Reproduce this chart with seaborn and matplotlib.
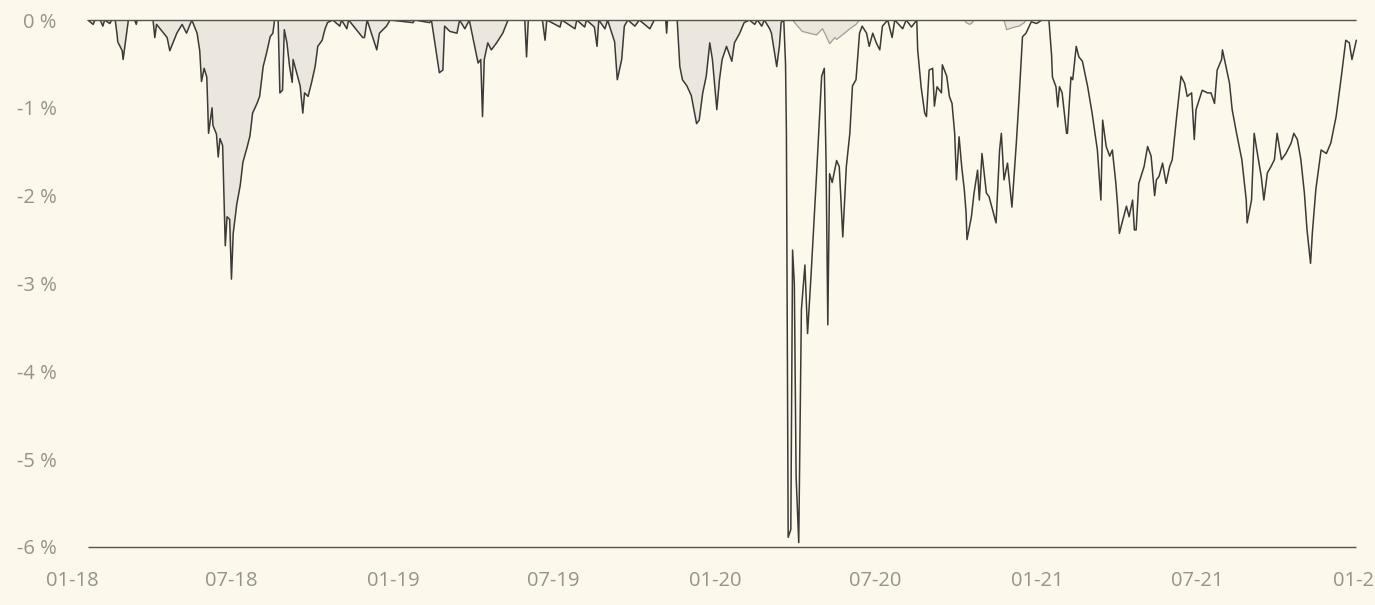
import matplotlib
matplotlib.use("Agg")
import matplotlib.pyplot as plt
import pandas as pd
import seaborn as sns

# ---------------- data ----------------
dates_a = [
    "2018-01-19", "2018-01-25", "2018-01-27", "2018-02-02", "2018-02-05", "2018-02-07", "2018-02-13", "2018-02-15",
    "2018-02-19", "2018-02-21", "2018-02-22", "2018-02-27", "2018-02-28", "2018-03-02", "2018-03-04", "2018-03-06",
    "2018-03-13", "2018-03-15", "2018-03-16", "2018-04-03", "2018-04-05", "2018-04-07", "2018-04-11", "2018-04-19",
    "2018-04-22", "2018-04-26", "2018-04-30", "2018-05-06", "2018-05-11", "2018-05-15", "2018-05-17", "2018-05-23",
    "2018-05-26", "2018-05-28", "2018-05-31", "2018-06-03", "2018-06-04", "2018-06-05", "2018-06-09", "2018-06-10",
    "2018-06-14", "2018-06-16", "2018-06-18", "2018-06-21", "2018-06-24", "2018-06-26", "2018-06-29", "2018-07-01",
    "2018-07-03", "2018-07-07", "2018-07-11", "2018-07-14", "2018-07-19", "2018-07-22", "2018-07-25", "2018-07-30",
    "2018-08-02", "2018-08-06", "2018-08-10", "2018-08-14", "2018-08-17", "2018-08-19", "2018-08-23", "2018-08-25",
    "2018-08-28", "2018-08-30", "2018-09-02", "2018-09-05", "2018-09-08", "2018-09-09", "2018-09-13", "2018-09-17",
    "2018-09-20", "2018-09-22", "2018-09-26", "2018-09-30", "2018-10-04", "2018-10-07", "2018-10-12", "2018-10-15",
    "2018-10-18", "2018-10-24", "2018-11-01", "2018-11-03", "2018-11-09", "2018-11-11", "2018-11-27", "2018-11-29",
    "2018-12-02", "2018-12-13", "2018-12-16", "2018-12-24", "2018-12-28", "2019-01-23", "2019-01-25", "2019-02-11",
    "2019-02-13", "2019-02-22", "2019-02-26", "2019-02-28", "2019-03-06", "2019-03-14", "2019-03-17", "2019-03-23",
    "2019-03-28", "2019-04-07", "2019-04-10", "2019-04-12", "2019-04-14", "2019-04-18", "2019-04-22", "2019-04-28",
    "2019-05-05", "2019-05-11", "2019-05-30", "2019-06-01", "2019-06-03", "2019-06-19", "2019-06-22", "2019-06-24",
    "2019-07-09", "2019-07-11", "2019-07-26", "2019-07-28", "2019-08-06", "2019-08-08", "2019-08-17", "2019-08-20",
    "2019-08-22", "2019-08-29", "2019-09-01", "2019-09-09", "2019-09-12", "2019-09-17", "2019-09-20", "2019-09-24",
    "2019-10-02", "2019-10-07", "2019-10-19", "2019-10-24", "2019-11-06", "2019-11-07", "2019-11-08", "2019-11-19",
    "2019-11-22", "2019-11-25", "2019-11-30", "2019-12-05", "2019-12-11", "2019-12-14", "2019-12-18", "2019-12-22",
    "2019-12-26", "2019-12-29", "2020-01-03", "2020-01-06", "2020-01-09", "2020-01-14", "2020-01-20", "2020-01-23",
    "2020-01-29", "2020-02-03", "2020-02-09", "2020-02-15", "2020-02-18", "2020-02-23", "2020-02-26", "2020-03-03",
    "2020-03-05", "2020-03-11", "2020-03-14", "2020-03-16", "2020-03-19", "2020-03-21", "2020-03-22", "2020-03-24",
    "2020-03-27", "2020-03-29", "2020-03-31", "2020-04-02", "2020-04-05", "2020-04-08", "2020-04-12", "2020-04-15",
    "2020-04-19", "2020-04-21", "2020-04-25", "2020-04-29", "2020-05-01", "2020-05-04", "2020-05-06", "2020-05-08",
    "2020-05-10", "2020-05-13", "2020-05-18", "2020-05-21", "2020-05-25", "2020-05-29", "2020-06-02", "2020-06-05",
    "2020-06-09", "2020-06-13", "2020-06-16", "2020-06-21", "2020-06-24", "2020-06-28", "2020-07-02", "2020-07-06",
    "2020-07-09", "2020-07-15", "2020-07-20", "2020-07-23", "2020-08-01", "2020-08-05", "2020-08-11", "2020-08-17",
    "2020-08-18", "2020-08-22", "2020-08-26", "2020-08-28", "2020-08-31", "2020-09-04", "2020-09-06", "2020-09-09",
    "2020-09-14", "2020-09-15", "2020-09-20", "2020-09-23", "2020-09-26", "2020-09-29", "2020-10-01", "2020-10-04",
    "2020-10-07", "2020-10-10", "2020-10-12", "2020-10-13", "2020-10-18", "2020-10-21", "2020-10-25", "2020-10-27",
    "2020-10-30", "2020-11-04", "2020-11-07", "2020-11-15", "2020-11-19", "2020-11-21", "2020-11-24", "2020-11-28",
    "2020-12-03", "2020-12-08", "2020-12-11", "2020-12-15", "2020-12-19", "2020-12-25", "2020-12-31", "2021-01-06",
    "2021-01-14", "2021-01-17", "2021-01-18", "2021-01-22", "2021-01-24", "2021-01-26", "2021-01-29", "2021-02-03",
    "2021-02-04", "2021-02-08", "2021-02-10", "2021-02-14", "2021-02-17", "2021-02-21", "2021-02-27", "2021-03-04",
    "2021-03-10", "2021-03-14", "2021-03-16", "2021-03-20", "2021-03-24", "2021-03-27", "2021-03-31", "2021-04-02",
    "2021-04-04", "2021-04-07", "2021-04-12", "2021-04-15", "2021-04-19", "2021-04-21", "2021-04-23", "2021-04-26",
    "2021-05-02", "2021-05-06", "2021-05-10", "2021-05-14", "2021-05-16", "2021-05-19", "2021-05-23", "2021-05-27",
    "2021-05-31", "2021-06-03", "2021-06-08", "2021-06-13", "2021-06-17", "2021-06-20", "2021-06-25", "2021-06-28",
    "2021-06-30", "2021-07-07", "2021-07-13", "2021-07-17", "2021-07-21", "2021-07-24", "2021-07-29", "2021-07-30",
    "2021-08-03", "2021-08-07", "2021-08-10", "2021-08-15", "2021-08-18", "2021-08-21", "2021-08-26", "2021-08-27",
    "2021-09-01", "2021-09-04", "2021-09-07", "2021-09-12", "2021-09-15", "2021-09-19", "2021-09-23", "2021-09-27",
    "2021-09-30", "2021-10-05", "2021-10-10", "2021-10-16", "2021-10-19", "2021-10-23", "2021-10-27", "2021-10-31",
    "2021-11-03", "2021-11-07", "2021-11-09", "2021-11-13", "2021-11-19", "2021-11-25", "2021-11-30", "2021-12-06",
    "2021-12-12", "2021-12-17", "2021-12-21", "2021-12-24", "2021-12-29",
]
drawdown_a = [
    0, -0.05, 0, 0, -0.07, 0, -0.04, 0,
    0, -0.15, -0.25, -0.35, -0.45, -0.30, -0.15, 0,
    0, -0.05, 0, 0, -0.20, -0.05, -0.10, -0.20,
    -0.35, -0.25, -0.15, -0.05, -0.15, -0.05, 0, -0.15,
    -0.35, -0.70, -0.55, -0.65, -0.95, -1.29, -1.00, -1.20,
    -1.30, -1.56, -1.35, -1.43, -2.57, -2.24, -2.27, -2.95,
    -2.43, -2.10, -1.88, -1.62, -1.44, -1.32, -1.06, -0.95,
    -0.87, -0.53, -0.37, -0.19, -0.15, 0, 0, -0.83,
    -0.80, -0.11, -0.26, -0.53, -0.71, -0.45, -0.60, -0.75,
    -1.06, -0.83, -0.87, -0.71, -0.53, -0.30, -0.23, -0.11,
    -0.03, 0, -0.07, 0, -0.10, 0, -0.20, -0.20,
    0, -0.34, -0.15, -0.07, 0, -0.03, 0, -0.03,
    0, -0.60, -0.57, -0.07, -0.13, -0.15, 0, -0.10,
    0, -0.49, -0.45, -1.10, -0.45, -0.26, -0.34, -0.26,
    -0.15, 0, 0, -0.42, 0, 0, -0.23, 0,
    -0.08, 0, -0.10, 0, -0.08, 0, -0.08, -0.30,
    0, -0.10, 0, -0.25, -0.68, -0.45, -0.07, 0,
    -0.07, 0, -0.10, 0, 0, -0.15, 0, 0,
    -0.53, -0.68, -0.75, -0.86, -1.18, -1.14, -0.83, -0.64,
    -0.26, -0.45, -1.02, -0.68, -0.45, -0.30, -0.47, -0.26,
    -0.15, -0.03, 0, -0.05, 0, -0.07, 0, -0.10,
    -0.15, -0.53, -0.30, -0.03, 0, -0.50, -1.29, -5.89,
    -5.80, -2.62, -3.00, -5.20, -5.95, -3.30, -2.79, -3.57,
    -2.90, -2.54, -1.80, -1.02, -0.64, -0.55, -1.60, -3.47,
    -1.75, -1.85, -1.60, -1.67, -2.47, -1.67, -1.29, -0.75,
    -0.68, -0.15, -0.07, -0.15, -0.30, -0.15, -0.26, -0.34,
    -0.07, 0, -0.20, 0, -0.10, 0, -0.08, 0,
    -0.34, -0.77, -1.06, -1.10, -0.57, -0.55, -0.98, -0.76,
    -0.83, -0.51, -0.64, -0.87, -0.95, -1.29, -1.82, -1.33,
    -1.67, -1.94, -2.20, -2.50, -2.24, -1.97, -1.71, -2.05,
    -1.52, -1.97, -2.01, -2.31, -1.48, -1.29, -1.82, -1.63,
    -2.13, -1.40, -0.91, -0.19, -0.15, -0.02, -0.04, 0,
    0, -0.40, -0.65, -0.76, -0.99, -0.76, -0.83, -1.29,
    -1.29, -0.65, -0.68, -0.30, -0.42, -0.47, -0.76, -1.06,
    -1.48, -2.05, -1.14, -1.44, -1.55, -1.48, -1.86, -2.12,
    -2.43, -2.31, -2.12, -2.24, -2.05, -2.39, -2.39, -1.86,
    -1.67, -1.44, -1.55, -2.00, -1.82, -1.78, -1.63, -1.86,
    -1.67, -1.59, -1.10, -0.64, -0.72, -0.87, -0.83, -1.36,
    -1.02, -0.80, -0.83, -0.83, -0.95, -0.57, -0.45, -0.34,
    -0.53, -0.72, -1.02, -1.29, -1.44, -1.59, -2.05, -2.31,
    -2.05, -1.29, -1.48, -1.78, -2.05, -1.74, -1.67, -1.59,
    -1.29, -1.59, -1.52, -1.40, -1.29, -1.36, -1.59, -1.97,
    -2.39, -2.77, -2.43, -1.93, -1.48, -1.52, -1.40, -1.10,
    -0.64, -0.23, -0.26, -0.45, -0.23,
]
dates_b = [
    "2020-03-19", "2020-03-29", "2020-04-02", "2020-04-09", "2020-04-17", "2020-04-25", "2020-05-02",
    "2020-05-06", "2020-05-10", "2020-05-16", "2020-05-18", "2020-05-27", "2020-06-02", "2020-06-09",
    "2020-06-13", "2020-10-10", "2020-10-12", "2020-10-16", "2020-10-19", "2020-10-21", "2020-11-24",
    "2020-11-27", "2020-11-30", "2020-12-06", "2020-12-11", "2020-12-17", "2020-12-19", "2021-12-29",
]
drawdown_b = [
    0, 0, -0.05, -0.13, -0.15, -0.17, -0.10,
    -0.18, -0.27, -0.20, -0.22, -0.15, -0.10, -0.05,
    0, 0, -0.03, -0.05, -0.03, 0, 0,
    -0.11, -0.10, -0.08, -0.07, -0.03, 0, 0,
]
fill_a_until = "2020-03-19"

x_tick_dates = ["2018-01-01", "2018-07-01", "2019-01-01", "2019-07-01", "2020-01-01",
                "2020-07-01", "2021-01-01", "2021-07-01", "2022-01-01"]
x_tick_labels = ["01-18", "07-18", "01-19", "07-19", "01-20", "07-20", "01-21", "07-21", "01-22"]
y_ticks = [0, -1, -2, -3, -4, -5, -6]
y_tick_labels = ["0 %", "-1 %", "-2 %", "-3 %", "-4 %", "-5 %", "-6 %"]

# ---------------- style ----------------
BG = "#fcf8ec"
LINE = "#3c3a38"
FILL = "#ebe7de"
EDGE = "#a29e96"
TEXT = "#96938e"

sns.set_theme(style="white")
plt.rcParams["font.family"] = ["Open Sans", "DejaVu Sans"]

df_a = pd.DataFrame({"date": pd.to_datetime(dates_a), "dd": drawdown_a})
df_b = pd.DataFrame({"date": pd.to_datetime(dates_b), "dd": drawdown_b})

fig = plt.figure(figsize=(13.75, 6.05), dpi=100, facecolor=BG)
ax = fig.add_axes([72 / 1375, 1 - 547 / 605, (1359 - 72) / 1375, (547 - 20) / 605])
ax.set_facecolor(BG)

early = df_a[df_a["date"] <= pd.Timestamp(fill_a_until)]
ax.fill_between(early["date"], early["dd"], 0, color=FILL, lw=0, zorder=1)
ax.fill_between(df_b["date"], df_b["dd"], 0, color=FILL, lw=0, zorder=1)
sns.lineplot(data=df_b, x="date", y="dd", ax=ax, color=EDGE, lw=0.9, zorder=2)
sns.lineplot(data=df_a, x="date", y="dd", ax=ax, color=LINE, lw=1.1, zorder=3)

ax.hlines([0, -6], df_a["date"].iloc[0], df_a["date"].iloc[-1], colors="#55534f", lw=1.0,
          zorder=4, clip_on=False)

ax.set_xlim(pd.Timestamp(x_tick_dates[0]), pd.Timestamp(x_tick_dates[-1]))
ax.set_ylim(-6, 0)
ax.set_xticks(pd.to_datetime(x_tick_dates))
ax.set_xticklabels(x_tick_labels)
ax.set_yticks(y_ticks)
ax.set_yticklabels(y_tick_labels)
ax.tick_params(axis="both", length=0, labelsize=14.5, colors=TEXT)
ax.tick_params(axis="x", pad=17)
ax.tick_params(axis="y", pad=11)
ax.set_xlabel("")
ax.set_ylabel("")
for s in ax.spines.values():
    s.set_visible(False)

fig.savefig("out.png", dpi=100, facecolor=BG)
